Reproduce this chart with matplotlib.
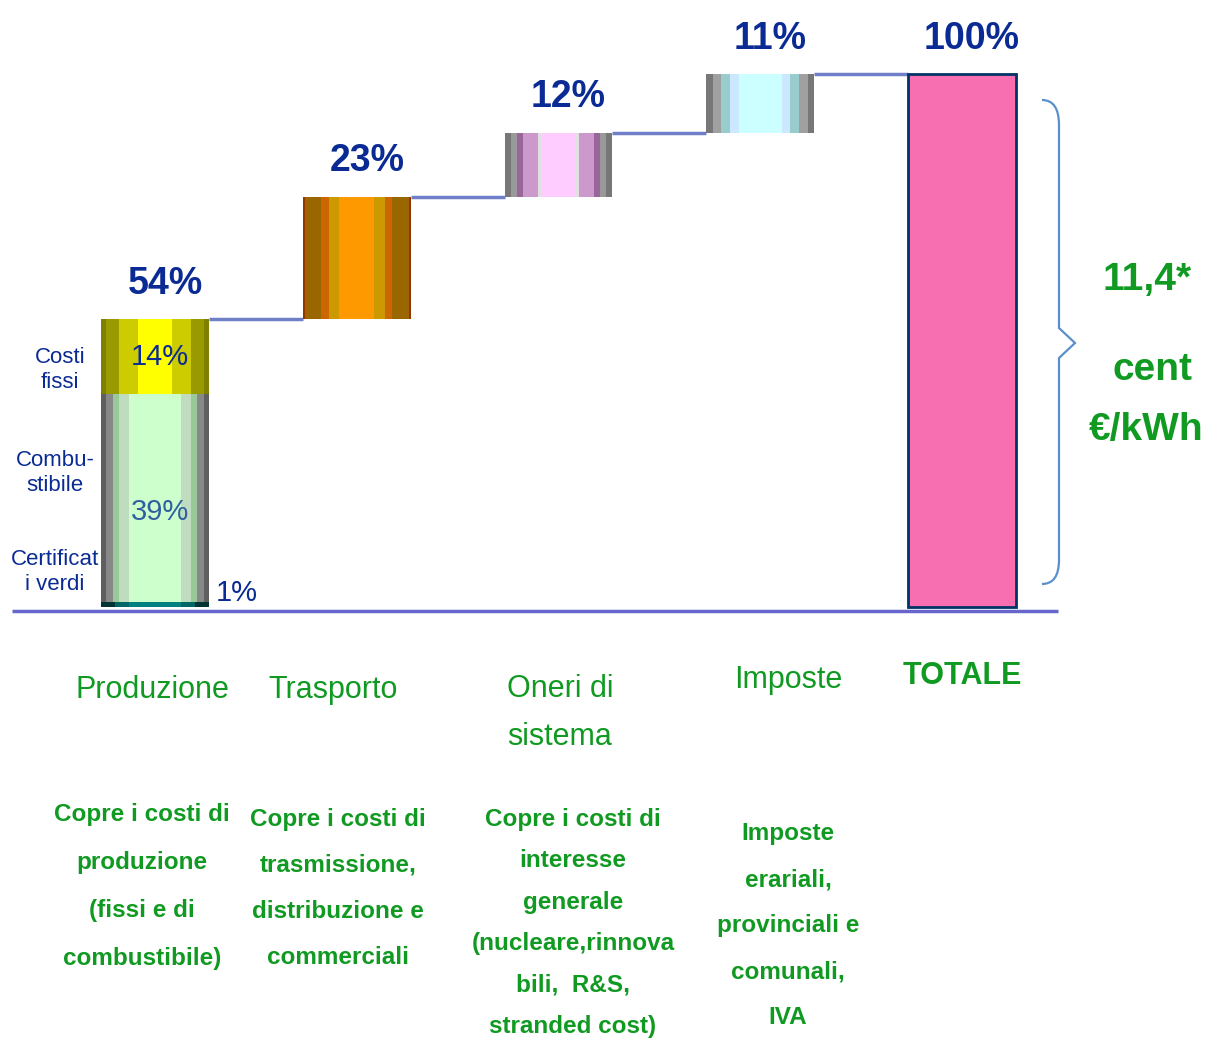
import numpy as np
import matplotlib
matplotlib.use("Agg")
import matplotlib.pyplot as plt
from matplotlib.path import Path
from matplotlib.patches import PathPatch

plt.rcParams['font.family'] = ['Liberation Sans', 'DejaVu Sans']

# --- data -------------------------------------------------------------
categories = ["Produzione", "Trasporto", "Oneri di\nsistema", "Imposte", "TOTALE"]
step_values = [54, 23, 12, 11]          # % of the final price per component
total_value = 100
production_parts = [1, 39, 14]          # certificati verdi, combustibile, costi fissi
production_part_names = ["Certificat\ni verdi", "Combu-\nstibile", "Costi\nfissi"]
value_labels = ["54%", "23%", "12%", "11%", "100%"]
part_labels = ["1%", "39%", "14%"]
descriptions = [
    "Copre i costi di\nproduzione\n(fissi e di\ncombustibile)",
    "Copre i costi di\ntrasmissione,\ndistribuzione e\ncommerciali",
    "Copre i costi di\ninteresse\ngenerale\n(nucleare,rinnova\nbili,  R&S,\nstranded cost)",
    "Imposte\nerariali,\nprovinciali e\ncomunali,\nIVA",
    "",
]
price_text = ["11,4*", "cent", "€/kWh"]

# --- styles -----------------------------------------------------------
NAVY = "#0b2b94"
GREEN = "#119a22"
LINE = "#7080c8"
BAR_W = 0.535

# cylinder shading palettes: (colour, width fraction) from edge to centre
PAL_TEAL = [("#003333", 0.13), ("#006666", 0.13), ("#008080", 0.48)]
PAL_FUEL = [("#5f5f5f", 0.05), ("#888888", 0.06), ("#99c899", 0.06),
            ("#c0dcc0", 0.09), ("#ccffcc", 0.48)]
PAL_FIX = [("#808000", 0.05), ("#999900", 0.12), ("#cccc00", 0.17), ("#ffff00", 0.32)]
PAL_TRA = [("#993300", 0.02), ("#996600", 0.15), ("#cc6600", 0.07),
           ("#cc9900", 0.10), ("#ff9900", 0.32)]
PAL_ONE = [("#777777", 0.06), ("#999999", 0.06), ("#996699", 0.05),
           ("#cc99cc", 0.14), ("#e0e0e0", 0.03), ("#ffccff", 0.32)]
PAL_IMP = [("#777777", 0.06), ("#a0a0a0", 0.08), ("#99cccc", 0.08),
           ("#cce8ff", 0.08), ("#ccffff", 0.40)]

W, H = 1207, 1051
fig = plt.figure(figsize=(W / 100, H / 100), dpi=100)
ax = fig.add_axes([0, 0, 1, 1])

# axis scale: category spacing ~202 px, 100 % ~533 px, baseline at y=607 px
XS, YS = 201.75, 5.33
X0, Y0 = 155, 607
ax.set_xlim(-X0 / XS, (W - X0) / XS)
ax.set_ylim(-(H - Y0) / YS, Y0 / YS)
ax.axis("off")


def P(px, py):
    """pixel position -> data position (for free text placement)"""
    return (px - X0) / XS, (Y0 - py) / YS


def cylinder(x, bottom, height, palette):
    halves = palette[:-1]
    centre_col, centre_w = palette[-1]
    cols = [c for c, _ in halves] + [centre_col] + [c for c, _ in halves[::-1]]
    ws = [w for _, w in halves] + [centre_w] + [w for _, w in halves[::-1]]
    ws = np.array(ws) / np.sum(ws) * BAR_W
    lefts = x - BAR_W / 2 + np.concatenate([[0], np.cumsum(ws)[:-1]])
    ax.bar(lefts, height, width=ws, bottom=bottom, align="edge",
           color=cols, linewidth=0, zorder=3)


xs = np.arange(len(categories))
bottoms = np.concatenate([[0], np.cumsum(step_values)[:-1]])
tops = np.cumsum(step_values)

# production bar split into its parts
part_palettes = [PAL_TEAL, PAL_FUEL, PAL_FIX]
pb = 0
for val, pal in zip(production_parts, part_palettes):
    cylinder(xs[0], pb, val, pal)
    pb += val

# the other floating steps
for i, pal in zip(range(1, 4), [PAL_TRA, PAL_ONE, PAL_IMP]):
    cylinder(xs[i], bottoms[i], step_values[i], pal)

# total
ax.bar(xs[4], total_value, width=BAR_W, color="#f76fb0", edgecolor="#003366",
       linewidth=2, zorder=3)

# connectors between steps
for i in range(4):
    ax.plot([xs[i] + BAR_W / 2, xs[i + 1] - BAR_W / 2], [tops[i], tops[i]],
            color=LINE, lw=2.5, zorder=2, solid_capstyle="butt")

# baseline
bx0, by = P(12, 611)
bx1, _ = P(1058, 611)
ax.plot([bx0, bx1], [by, by], color="#6666cc", lw=2.5, zorder=4,
        solid_capstyle="butt")

# value labels above bars
label_tops = list(tops) + [total_value]
for i, (x, t, lab) in enumerate(zip(xs, label_tops, value_labels)):
    ax.text(x + 0.05, t + 6.6, lab, ha="center", va="center", color=NAVY,
            fontsize=27, fontweight="bold", zorder=5)

# production part labels
ax.text(*P(160, 357), part_labels[2], ha="center", va="center", color=NAVY,
        fontsize=21, zorder=5)
ax.text(*P(160, 512), part_labels[1], ha="center", va="center", color="#2f5f9f",
        fontsize=21, zorder=5)
ax.text(*P(237, 593), part_labels[0], ha="center", va="center", color=NAVY,
        fontsize=21, zorder=5)

for name, (px, py) in zip(production_part_names, [(55, 572), (55, 473), (60, 370)]):
    ax.text(*P(px, py), name, ha="center", va="center", color=NAVY,
            fontsize=16, linespacing=1.2, zorder=5)

# category names
cat_pos = [(152, 690), (333, 690), (560, 713), (788, 680), (962, 676)]
for name, (px, py) in zip(categories, cat_pos):
    ax.text(*P(px, py), name, ha="center", va="center", color=GREEN,
            fontsize=22, fontweight="bold" if name == "TOTALE" else "normal",
            linespacing=1.75)

# descriptions
desc_pos = [(142, 816), (338, 821), (573, 821), (788, 835)]
desc_sp = [2.38, 2.27, 2.02, 2.28]
for text, (px, py), sp in zip(descriptions, desc_pos, desc_sp):
    ax.text(*P(px, py - 13), text, ha="center", va="top", color=GREEN,
            fontsize=17.5, fontweight="bold", linespacing=sp)

# brace next to the total bar
codes = [Path.MOVETO, Path.CURVE3, Path.CURVE3, Path.LINETO, Path.LINETO,
         Path.LINETO, Path.LINETO, Path.CURVE3, Path.CURVE3]
verts = [P(1042, 100), P(1059, 100), P(1059, 125), P(1059, 328), P(1075, 343),
         P(1059, 358), P(1059, 560), P(1059, 584), P(1042, 584)]
ax.add_patch(PathPatch(Path(verts, codes), fill=False, edgecolor="#5b8fcc", lw=1.6))

for lab, (px, py) in zip(price_text, [(1147, 280), (1152, 370), (1146, 430)]):
    ax.text(*P(px, py), lab, ha="center", va="center", color=GREEN,
            fontsize=28, fontweight="bold")

fig.savefig("out.png", dpi=100)
